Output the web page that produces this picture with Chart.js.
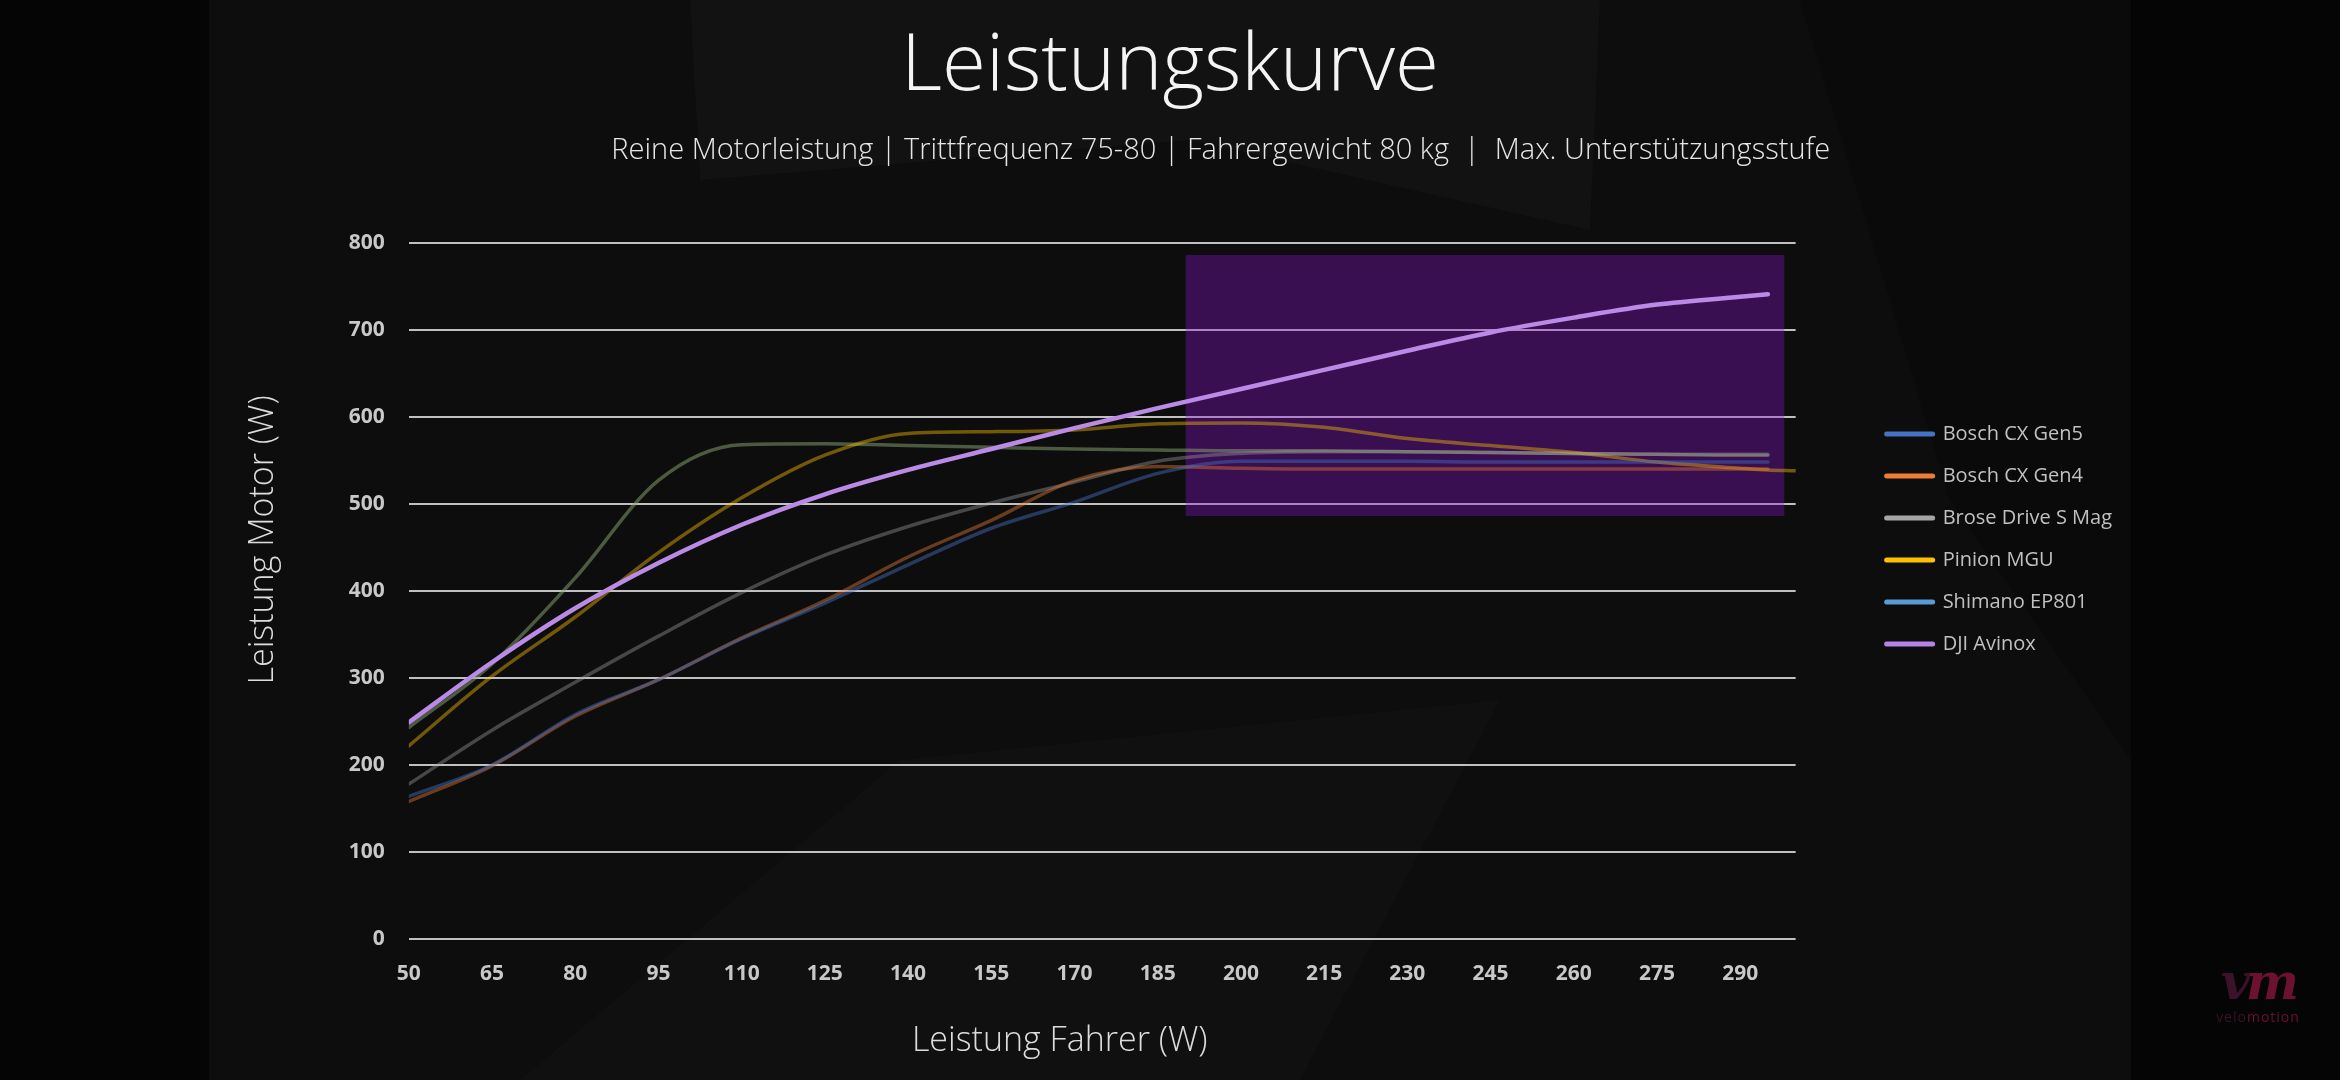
<!DOCTYPE html>
<html lang="de">
<head>
<meta charset="utf-8">
<title>Leistungskurve</title>
<script src="https://cdn.jsdelivr.net/npm/chart.js@4.4.1/dist/chart.umd.min.js"></script>
<style>
  html, body { margin: 0; padding: 0; }
  body {
    width: 2340px; height: 1080px; overflow: hidden; position: relative;
    background: linear-gradient(90deg, #050505 0, #050505 209px, #0d0d0d 209px, #0d0d0d 2131px, #050505 2131px);
    font-family: "Open Sans", sans-serif;
  }
  .shape { position: absolute; left: 0; top: 0; width: 2340px; height: 1080px; pointer-events: none; }
  .s1 { background: #121212; clip-path: polygon(690px 0, 1600px 0, 1590px 230px, 1190px 140px, 700px 180px); }
  .s2 { background: #101010; clip-path: polygon(520px 1080px, 900px 760px, 1500px 700px, 1300px 1080px); }
  .s3 { background: #0a0a0a; clip-path: polygon(1800px 0, 2131px 0, 2131px 760px, 1950px 500px); }
  #chart { position: absolute; left: 0; top: 0; }
  .logo { position: absolute; left: 2203px; top: 955px; width: 110px; text-align: center; }
  .logo .mark { font-family: "DejaVu Serif", serif; font-weight: bold; font-style: italic; font-size: 50px; line-height: 54px; letter-spacing: -4px; }
  .logo .word { font-size: 14px; letter-spacing: 1px; line-height: 16px; }
  .dark { color: #3a1229; }
  .red { color: #6d1130; }
</style>
</head>
<body>
<div class="shape s1"></div>
<div class="shape s2"></div>
<div class="shape s3"></div>
<canvas id="chart" width="2340" height="1080"></canvas>
<div class="logo">
  <div class="mark"><span class="dark">v</span><span class="red">m</span></div>
  <div class="word"><span class="dark">velo</span><span class="red">motion</span></div>
</div>
<script>
// Leistung Fahrer (W) - x values shared by all curves
const riderPower = [50, 65, 80, 95, 110, 125, 140, 155, 170, 185, 200, 215, 230, 245, 260, 275, 290, 295, 300];
const xTicks = [50, 65, 80, 95, 110, 125, 140, 155, 170, 185, 200, 215, 230, 245, 260, 275, 290];

const seriesNames = ['Bosch CX Gen5', 'Bosch CX Gen4', 'Brose Drive S Mag', 'Pinion MGU', 'Shimano EP801', 'DJI Avinox'];

// Leistung Motor (W)
const boschGen5 = [164, 200, 258, 298, 345, 386, 430, 472, 502, 535, 549, 549, 549, 548, 548, 548, 548, 548, null];
const boschGen4 = [158, 199, 256, 298, 346, 389, 439, 481, 527, 543, 541, 540, 540, 540, 540, 540, 540, 540, null];
const broseSMag = [178, 240, 295, 348, 398, 441, 474, 501, 525, 549, 558, 560, 560, 559, 558, 557, 557, 557, null];
const pinionMgu = [222, 302, 370, 444, 507, 556, 581, 583, 585, 592, 593, 588, 575, 567, 559, 548, 541, 539, 538];
const shimanoEp801 = [243, 316, 415, 527, 568, 569, 567, 565, 563, 562, 561, 561, 560, 559, 558, 557, 556, 556, null];
const djiAvinox = [249, 318, 380, 432, 476, 511, 539, 563, 587, 610, 632, 654, 676, 697, 714, 729, 738, 741, null];

// highlighted area (x from/to, y from/to)
const highlightX = [190, 298];
const highlightY = [486, 786];

const legendColors = ['#4472c4', '#ed7d31', '#a5a5a5', '#ffc000', '#5b9bd5', '#b583e6'];
const lineColors = [
  'rgba(68,114,196,0.45)',
  'rgba(237,125,49,0.42)',
  'rgba(165,165,165,0.38)',
  'rgba(255,192,0,0.42)',
  'rgba(140,170,115,0.5)',
  '#bb8ae6'
];

const allSeries = [boschGen5, boschGen4, broseSMag, pinionMgu, shimanoEp801, djiAvinox];

const toPoints = (values) => riderPower.map((x, i) => ({ x: x, y: values[i] }));

const lineDatasets = allSeries.map((values, i) => ({
  label: seriesNames[i],
  data: toPoints(values),
  borderColor: lineColors[i],
  backgroundColor: lineColors[i],
  borderWidth: i === 5 ? 4.5 : 3.5,
  borderCapStyle: 'round',
  pointRadius: 0,
  cubicInterpolationMode: 'monotone',
  fill: false,
  order: i === 5 ? 0 : 1
}));

const highlightDataset = {
  label: 'Bereich',
  data: [{ x: highlightX[0], y: highlightY[1] }, { x: highlightX[1], y: highlightY[1] }],
  borderWidth: 0,
  pointRadius: 0,
  backgroundColor: 'rgba(140,20,210,0.35)',
  fill: { value: highlightY[0] },
  order: 2
};

const fontFamily = '"Open Sans", sans-serif';
const tickColor = '#c8c8c8';
// em / en spaces, used to nudge centred titles off the centre like in the original
const EM = '\u2003';
const EN = '\u2002';

var ctx = document.getElementById('chart');
new Chart(ctx, {
  type: 'line',
  data: {
    datasets: lineDatasets.concat([highlightDataset])
  },
  options: {
    responsive: false,
    animation: false,
    layout: {
      padding: { left: 218, right: 218, top: 0, bottom: 2 }
    },
    scales: {
      x: {
        type: 'linear',
        min: 50,
        max: 300,
        afterBuildTicks: (axis) => {
          axis.ticks = xTicks.map(v => ({ value: v }));
        },
        grid: { display: false, drawTicks: false },
        border: { display: false },
        ticks: {
          color: tickColor,
          font: { family: fontFamily, size: 21, weight: 'bold' },
          padding: 22,
          autoSkip: false,
          maxRotation: 0
        },
        title: {
          display: true,
          text: 'Leistung Fahrer (W)' + EM.repeat(2) + EN,
          color: '#dcdcdc',
          font: { family: fontFamily, size: 34, weight: 300 },
          padding: { top: 13, bottom: 16 }
        }
      },
      y: {
        min: 0,
        max: 800,
        grid: {
          color: 'rgba(225,225,225,0.85)',
          lineWidth: 2,
          drawTicks: false
        },
        border: { display: false },
        ticks: {
          stepSize: 100,
          color: tickColor,
          font: { family: fontFamily, size: 21, weight: 'bold' },
          padding: 24
        },
        title: {
          display: true,
          text: EM.repeat(3) + 'Leistung Motor (W)',
          color: '#dcdcdc',
          font: { family: fontFamily, size: 34, weight: 300 },
          padding: { top: 25, bottom: 41 }
        }
      },
      gap: {
        type: 'linear',
        axis: 'y',
        position: 'right',
        display: true,
        grid: { display: false },
        border: { display: false },
        ticks: { display: false },
        afterFit: (scale) => { scale.width = 69; }
      }
    },
    plugins: {
      title: {
        display: true,
        text: 'Leistungskurve',
        color: '#f4f4f4',
        font: { family: fontFamily, size: 80, weight: 300 },
        padding: { top: 19, bottom: 0 }
      },
      subtitle: {
        display: true,
        text: EM.repeat(3) + EN + 'Reine Motorleistung | Trittfrequenz 75-80 | Fahrergewicht 80 kg  |  Max. Unterstützungsstufe',
        color: '#e6e6e6',
        font: { family: fontFamily, size: 29, weight: 300 },
        padding: { top: 18, bottom: 75 }
      },
      legend: {
        display: true,
        position: 'right',
        labels: {
          color: '#c0c0c0',
          font: { family: fontFamily, size: 20 },
          padding: 22,
          usePointStyle: true,
          pointStyle: 'line',
          pointStyleWidth: 46,
          generateLabels: () => seriesNames.map((name, i) => ({
            text: name,
            fillStyle: legendColors[i],
            strokeStyle: legendColors[i],
            fontColor: '#c0c0c0',
            lineWidth: 5,
            lineCap: 'round',
            pointStyle: 'line',
            hidden: false,
            datasetIndex: i
          }))
        }
      },
      tooltip: { enabled: false }
    }
  }
});
</script>
</body>
</html>
